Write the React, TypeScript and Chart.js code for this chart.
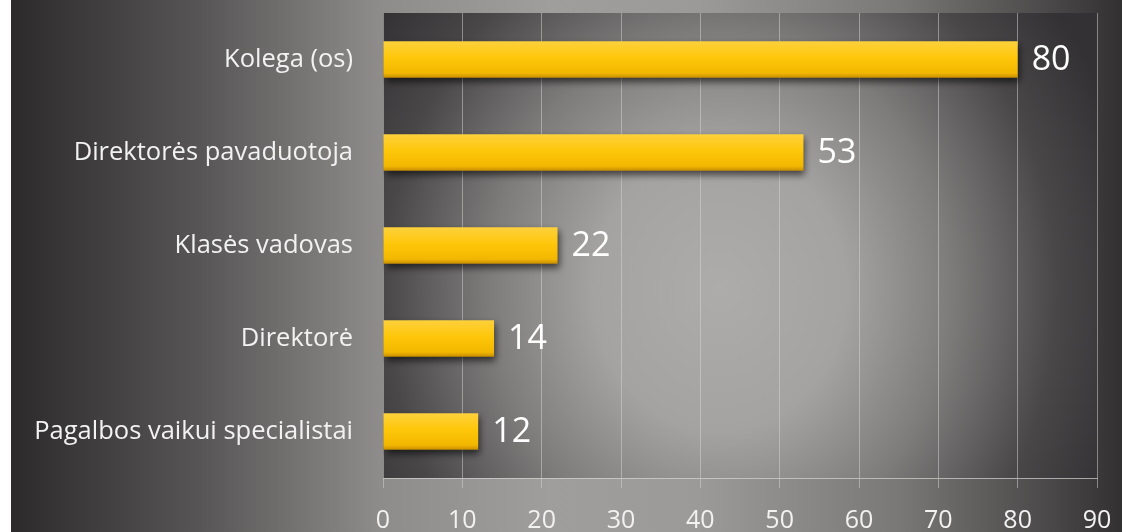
import React, { useEffect, useRef } from "react";
import { Chart, registerables } from "chart.js";

Chart.register(...registerables);

const categories = [
  "Kolega (os)",
  "Direktorės pavaduotoja",
  "Klasės vadovas",
  "Direktorė",
  "Pagalbos vaikui specialistai",
];
const values = [80, 53, 22, 14, 12];
const xMin = 0;
const xMax = 90;
const xStep = 10;

const FONT = "'Open Sans'";

const bgPlugin = {
  id: "bgPlugin",
  beforeDraw(chart: any) {
    const { ctx, width, height, chartArea: a } = chart;
    ctx.save();
    ctx.fillStyle = "#ffffff";
    ctx.fillRect(0, 0, width, height);
    const g = ctx.createLinearGradient(11, 0, width, 0);
    g.addColorStop(0, "#2c2a2b");
    g.addColorStop(0.17, "#575555");
    g.addColorStop(0.33, "#8e8c8a");
    g.addColorStop(0.485, "#a09e9c");
    g.addColorStop(0.62, "#9c9a98");
    g.addColorStop(0.8, "#7a7876");
    g.addColorStop(0.935, "#4a4848");
    g.addColorStop(1, "#323031");
    ctx.fillStyle = g;
    ctx.fillRect(11, 0, width - 11, height);

    ctx.beginPath();
    ctx.rect(a.left, a.top, a.right - a.left, a.bottom - a.top);
    ctx.clip();
    const cx = 720;
    const cy = 290;
    const rx = 420;
    const ry = 470;
    ctx.translate(cx, cy);
    ctx.scale(1, ry / rx);
    const rg = ctx.createRadialGradient(0, 0, 0, 0, 0, rx);
    rg.addColorStop(0, "#aeacaa");
    rg.addColorStop(0.3, "#a5a3a1");
    rg.addColorStop(0.55, "#7e7c7b");
    rg.addColorStop(0.8, "#494748");
    rg.addColorStop(1, "#333133");
    ctx.fillStyle = rg;
    ctx.fillRect(-rx * 3, -rx * 3, rx * 6, rx * 6);
    ctx.restore();
  },
};

const shadowPlugin = {
  id: "shadowPlugin",
  beforeDatasetsDraw(chart: any) {
    const ctx = chart.ctx;
    ctx.save();
    ctx.shadowColor = "rgba(0,0,0,0.6)";
    ctx.shadowBlur = 7;
    ctx.shadowOffsetX = 2;
    ctx.shadowOffsetY = 4;
  },
  afterDatasetsDraw(chart: any) {
    chart.ctx.restore();
  },
};

const labelPlugin = {
  id: "labelPlugin",
  afterDatasetsDraw(chart: any) {
    const ctx = chart.ctx;
    const meta = chart.getDatasetMeta(0);
    ctx.save();
    ctx.font = `34px ${FONT}`;
    ctx.fillStyle = "#ffffff";
    ctx.textAlign = "left";
    ctx.textBaseline = "middle";
    meta.data.forEach((bar: any, i: number) => {
      ctx.fillText(String(values[i]), bar.x + 14, bar.y + 1);
    });
    ctx.restore();
  },
};

export default function App() {
  const ref = useRef<HTMLCanvasElement>(null);

  useEffect(() => {
    if (!ref.current) return;
    const chart = new Chart(ref.current, {
      type: "bar",
      data: {
        labels: categories,
        datasets: [
          {
            data: values,
            backgroundColor: (c: any) => {
              const chartObj = c.chart;
              const ys = chartObj.scales && chartObj.scales.y;
              if (!ys || c.dataIndex === undefined) return "#fec608";
              const yc = ys.getPixelForValue(c.dataIndex);
              if (!isFinite(yc)) return "#fec608";
              const h = 18;
              const g = chartObj.ctx.createLinearGradient(0, yc - h, 0, yc + h);
              g.addColorStop(0, "#fdd03c");
              g.addColorStop(0.45, "#fec70a");
              g.addColorStop(0.88, "#f2b700");
              g.addColorStop(1, "#c98f00");
              return g;
            },
            borderWidth: 0,
            barPercentage: 0.39,
            categoryPercentage: 1,
          },
        ],
      },
      options: {
        indexAxis: "y",
        responsive: false,
        animation: false,
        layout: { padding: { left: 0, top: 13, right: 25, bottom: 0 } },
        plugins: {
          legend: { display: false },
          tooltip: { enabled: false },
        },
        scales: {
          x: {
            min: xMin,
            max: xMax,
            ticks: {
              stepSize: xStep,
              color: "#f2f2f2",
              font: { family: FONT, size: 25 },
              padding: 18,
            },
            grid: {
              color: "rgba(215,213,211,0.5)",
              lineWidth: 1,
              tickLength: 10,
              drawTicks: true,
            },
            border: { display: true, color: "rgba(215,213,211,0.7)", width: 1 },
            afterFit: (s: any) => {
              s.height = 54;
              s.paddingLeft = 0;
              s.paddingRight = 0;
            },
          },
          y: {
            ticks: {
              color: "#f2f2f2",
              font: { family: FONT, size: 25.5 },
              padding: 30,
            },
            grid: { display: false, drawTicks: false },
            border: { display: false },
            afterFit: (s: any) => {
              s.width = 383;
              s.paddingTop = 0;
              s.paddingBottom = 0;
            },
          },
        },
      },
      plugins: [bgPlugin, shadowPlugin, labelPlugin],
    } as any);
    chart.update();
    return () => chart.destroy();
  }, []);

  return (
    <canvas
      ref={ref}
      width={1122}
      height={532}
      style={{ position: "fixed", left: 0, top: 0, display: "block" }}
    />
  );
}
